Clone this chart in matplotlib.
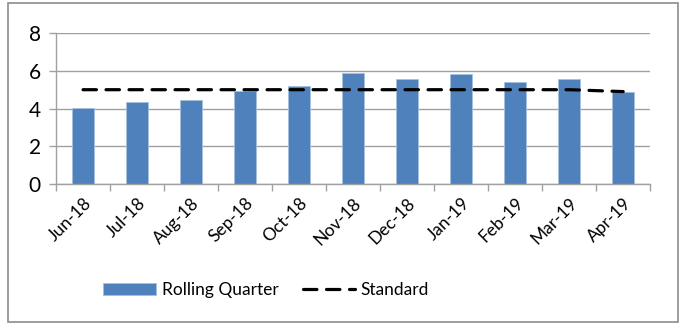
import matplotlib.pyplot as plt
import numpy as np

months = ['Jun-18', 'Jul-18', 'Aug-18', 'Sep-18', 'Oct-18', 'Nov-18',
          'Dec-18', 'Jan-19', 'Feb-19', 'Mar-19', 'Apr-19']
rolling_quarter = [4.05, 4.35, 4.45, 4.95, 5.2, 5.9, 5.55, 5.85, 5.4, 5.55, 4.9]
standard = [5.0, 5.0, 5.0, 5.0, 5.0, 5.0, 5.0, 5.0, 5.0, 5.0, 4.9]

plt.rcParams['font.family'] = ['Lato', 'DejaVu Sans']

fig = plt.figure(figsize=(6.83, 3.25), dpi=100)
ax = fig.add_axes([0.082, 0.434, 0.870, 0.464])

x = np.arange(len(months))
bars = ax.bar(x, rolling_quarter, width=0.4, color='#4f81bd', edgecolor='#a7c0de',
              linewidth=0.6, label='Rolling Quarter', zorder=2)
line, = ax.plot(x, standard, color='black', linewidth=2.3, dashes=(4.2, 3.0),
                dash_capstyle='round', label='Standard', zorder=3)

ax.set_xlim(-0.5, len(months) - 0.5)
ax.set_ylim(0, 8)
ax.set_yticks([0, 2, 4, 6, 8])
ax.yaxis.grid(True, color='#a0a0a0', linewidth=1.0, zorder=0)
ax.set_axisbelow(True)

# ticks on category boundaries, labels at centres
ax.set_xticks(np.arange(-0.5, len(months), 1.0))
ax.set_xticklabels([])
ax.set_xticks(x, minor=True)
ax.set_xticklabels(months, minor=True, rotation=45, ha='right',
                   rotation_mode='anchor', fontsize=12.5)
ax.tick_params(axis='x', which='major', direction='out', length=5,
               color='#a0a0a0', width=1.0)
ax.tick_params(axis='x', which='minor', length=0, pad=8)
ax.tick_params(axis='y', direction='out', length=5, color='#a0a0a0',
               width=1.0, labelsize=15, pad=6)

for side in ['top', 'right']:
    ax.spines[side].set_visible(False)
for side in ['left', 'bottom']:
    ax.spines[side].set_color('#a0a0a0')
    ax.spines[side].set_linewidth(1.0)

fig.legend([bars, line], ['Rolling Quarter', 'Standard'], loc='center',
           bbox_to_anchor=(0.39, 0.108), ncol=2, frameon=False,
           fontsize=12.5, handlelength=3.0, columnspacing=1.4, handletextpad=0.35)

# chart border
fig.patches.append(plt.Rectangle((0.011, 0.009), 0.982, 0.982,
                                 transform=fig.transFigure, fill=False,
                                 edgecolor='#8c8c8c', linewidth=1.2))

fig.savefig('out.png', dpi=100)
